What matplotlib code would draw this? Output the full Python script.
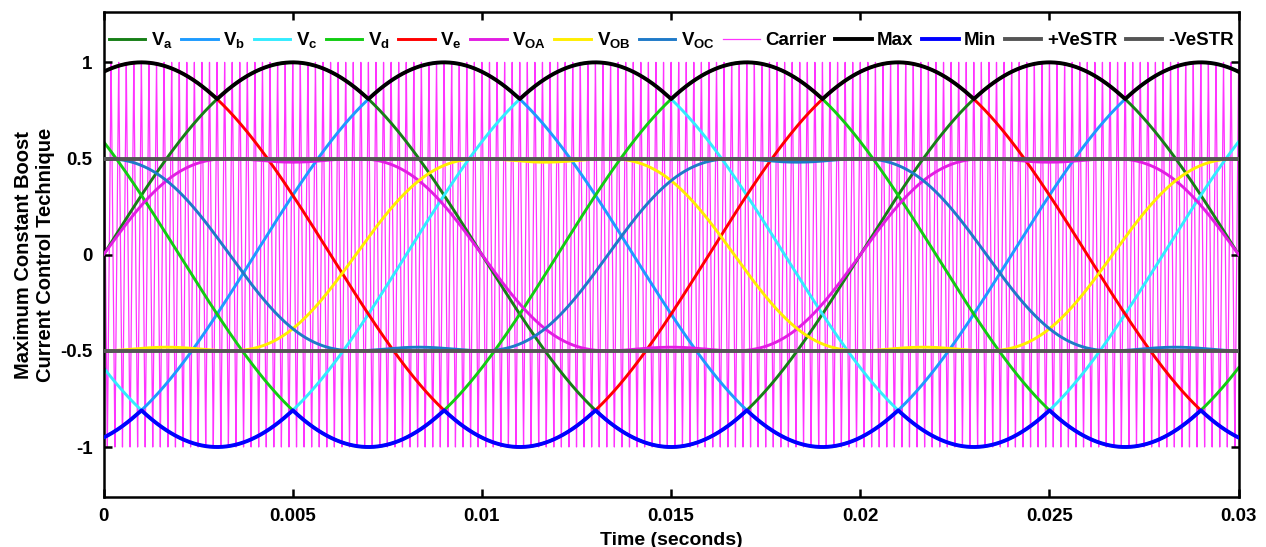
import numpy as np
import matplotlib
matplotlib.use('Agg')
import matplotlib.pyplot as plt

plt.rcParams['font.family'] = ['Liberation Sans', 'DejaVu Sans']
plt.rcParams['font.weight'] = 'bold'
plt.rcParams['mathtext.fontset'] = 'custom'
plt.rcParams['mathtext.rm'] = 'Liberation Sans:bold'
plt.rcParams['mathtext.bf'] = 'Liberation Sans:bold'
plt.rcParams['mathtext.it'] = 'Liberation Sans:bold'

# Signal parameters
f_ref = 50.0            # reference frequency (Hz)
f_carrier = 5000.0      # triangular carrier frequency (Hz)
t_end = 0.03
ref_amp = 1.0
phase_shifts_deg = [0, -72, -144, -216, -288]   # five-phase references Va..Ve
out_shifts_deg = [0, -120, 120]                 # three-phase outputs VOA, VOB, VOC
out_peak = 0.5
third_harm = 1.0 / 6.0
vestr = 0.5

phase_names = ['$V_a$', '$V_b$', '$V_c$', '$V_d$', '$V_e$']
phase_colors = ['#177f17', '#1e9bff', '#33ecff', '#12cc12', '#ff0000']
out_names = ['$V_{OA}$', '$V_{OB}$', '$V_{OC}$']
out_colors = ['#e21ee2', '#ffee00', '#1f7ac8']

t = np.linspace(0, t_end, 30001)
w = 2 * np.pi * f_ref

phases = [ref_amp * np.sin(w * t + np.deg2rad(s)) for s in phase_shifts_deg]
vmax = np.max(phases, axis=0)
vmin = np.min(phases, axis=0)

gain = out_peak / np.sin(np.pi / 3)
outs = [gain * (np.sin(w * t + np.deg2rad(s)) + third_harm * np.sin(3 * (w * t + np.deg2rad(s))))
        for s in out_shifts_deg]

carrier = 2 * np.abs(2 * ((t * f_carrier) % 1.0) - 1) - 1

fig = plt.figure(figsize=(12.66, 5.47), dpi=100)
ax = fig.add_axes([0.0818, 0.0914, 0.8966, 0.886])

ax.plot(t, carrier, color='#ff33ff', lw=0.9, zorder=1, label='Carrier')
for v, name, c in zip(phases, phase_names, phase_colors):
    ax.plot(t, v, color=c, lw=2.1, zorder=2, label=name)
for v, name, c in zip(outs, out_names, out_colors):
    ax.plot(t, v, color=c, lw=2.1, zorder=3, label=name)
ax.plot(t, vmax, color='black', lw=2.8, zorder=4, label='Max')
ax.plot(t, vmin, color='#0000ff', lw=2.8, zorder=4, label='Min')
ax.axhline(vestr, color='#555555', lw=2.8, zorder=5, label='+VeSTR')
ax.axhline(-vestr, color='#555555', lw=2.8, zorder=5, label='-VeSTR')

ax.set_xlim(0, t_end)
ax.set_ylim(-1.26, 1.26)
ax.set_xticks([0, 0.005, 0.01, 0.015, 0.02, 0.025, 0.03])
ax.set_xticklabels(['0', '0.005', '0.01', '0.015', '0.02', '0.025', '0.03'])
ax.set_yticks([-1, -0.5, 0, 0.5, 1])
ax.set_yticklabels(['-1', '-0.5', '0', '0.5', '1'])
ax.tick_params(direction='in', length=6, width=1.8, top=True, right=True,
               labelsize=13.5, pad=8)
for sp in ax.spines.values():
    sp.set_linewidth(1.8)

ax.set_xlabel('Time (seconds)', fontsize=14, fontweight='bold')
ax.xaxis.set_label_coords(0.5, -0.072)
ax.set_ylabel('Maximum Constant Boost\nCurrent Control Technique',
              fontsize=14.5, fontweight='bold', labelpad=4)

# legend in the same order as the traces were defined
handles, labels = ax.get_legend_handles_labels()
order = ['$V_a$', '$V_b$', '$V_c$', '$V_d$', '$V_e$', '$V_{OA}$', '$V_{OB}$', '$V_{OC}$',
         'Carrier', 'Max', 'Min', '+VeSTR', '-VeSTR']
lookup = dict(zip(labels, handles))
leg = ax.legend([lookup[k] for k in order], order, loc='upper center',
                bbox_to_anchor=(0.5, 0.99), ncol=13, frameon=False,
                fontsize=13.5, handlelength=1.95, handletextpad=0.3,
                columnspacing=0.45, borderaxespad=0.3)

fig.savefig('out.png', dpi=100)
